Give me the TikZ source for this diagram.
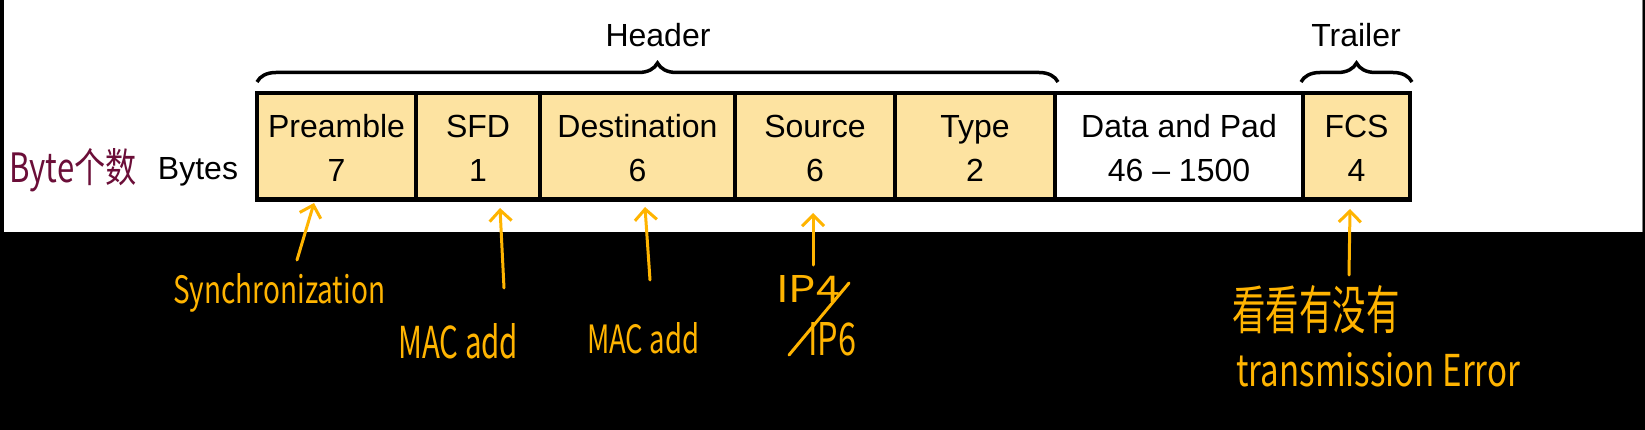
\documentclass[tikz,border=0pt]{standalone}
\usepackage{fontspec}
\setmainfont{Liberation Sans}
\newfontfamily\cjk{Noto Sans CJK SC}
\usetikzlibrary{arrows.meta,decorations.pathreplacing}
\definecolor{fieldfill}{HTML}{FDE3A1}
\definecolor{hand}{HTML}{FFB400}
\definecolor{maroon}{HTML}{6B0E38}
\newcommand{\handtext}[3]{\resizebox{#1pt}{#2pt}{\cjk #3}}
\newcommand{\twolines}[2]{\rule{0pt}{30pt}#1\\#2\rule[-4pt]{0pt}{4pt}}
\tikzset{
  field/.style={draw=black, line width=4.5pt, inner sep=0pt, minimum height=106.5pt,
    align=center, font=\fontsize{32}{44}\selectfont},
  yfield/.style={field, fill=fieldfill},
  wfield/.style={field, fill=white},
  lbl/.style={font=\fontsize{32}{38}\selectfont, inner sep=0pt},
  bracestyle/.style={decorate, decoration={brace, amplitude=19pt}, line width=3.5pt},
  note/.style={text=hand, inner sep=0pt},
  notearrow/.style={draw=hand, line width=3pt, line cap=round, -{Straight Barb[length=11pt,width=22pt,line width=3pt]}},
}
\begin{document}
\begin{tikzpicture}[x=1pt,y=-1pt]
\useasboundingbox (0,0) rectangle (1645,430);
\fill[black] (0,0) rectangle (1645,430);
\fill[white] (4,0) rectangle (1642,232);
\draw[gray, line width=1pt] (1642.5,0) -- (1642.5,232);

% fields
\node[yfield, minimum width=159pt] (pre)  at (336.5,146.25) {\twolines{Preamble}{7}};
\node[yfield, minimum width=124pt] (sfd)  at (478,146.25) {\twolines{SFD}{1}};
\node[yfield, minimum width=195pt] (dst)  at (637.5,146.25) {\twolines{Destination}{6}};
\node[yfield, minimum width=160pt] (src)  at (815,146.25) {\twolines{Source}{6}};
\node[yfield, minimum width=160pt] (typ)  at (975,146.25) {\twolines{Type}{2}};
\node[wfield, minimum width=248pt] (dat)  at (1179,146.25) {\twolines{Data and Pad}{46 -- 1500}};
\node[yfield, minimum width=107pt] (fcs)  at (1356.5,146.25) {\twolines{FCS}{4}};

% braces and labels
\coordinate (hL) at (257,82);
\coordinate (hR) at (1058,82);
\coordinate (tL) at (1301,82);
\coordinate (tR) at (1412,82);
\draw[bracestyle] (hL) -- (hR);
\draw[bracestyle] (tL) -- (tR);
\node[lbl] (header) at (658,35) {Header};
\node[lbl] (trailer) at (1356,35) {Trailer};

\node[lbl] (bytes) at (198,172) {Bytes};
\node[inner sep=0pt, text=maroon] (bytecn) at (73,170) {\handtext{127}{34}{Byte个数}};

% handwritten annotations
\node[note, anchor=base west] (sync) at (173,303) {\handtext{212}{30}{Synchronization}};
\node[note, anchor=base west] (mac1) at (398,358) {\handtext{120}{35}{MAC add}};
\node[note, anchor=base west] (mac2) at (587,353) {\handtext{112}{31}{MAC add}};
\node[note, anchor=base west] (ip4)  at (776,302) {\handtext{64}{27}{IP4}};
\node[note, anchor=base west] (ip6)  at (808,355) {\handtext{48}{33}{IP6}};
\coordinate (slA) at (789,355);
\coordinate (slB) at (849,283);
\draw[draw=hand, line width=3pt, line cap=round] (slA) -- (slB);
\node[note] (cn) at (1316,310) {\handtext{167}{44}{看看有没有}};
\node[note, anchor=base west] (err) at (1236,386) {\handtext{284}{34}{transmission Error}};

% arrows
\coordinate (a1s) at (297,260); \coordinate (a1e) at (314,203);
\coordinate (a2s) at (504,288); \coordinate (a2e) at (500,208);
\coordinate (a3s) at (650,280); \coordinate (a3e) at (645,207);
\coordinate (a4s) at (813,265); \coordinate (a4e) at (813,213);
\coordinate (a5s) at (1349,275); \coordinate (a5e) at (1350,209);
\draw[notearrow] (a1s) -- (a1e);
\draw[notearrow] (a2s) -- (a2e);
\draw[notearrow] (a3s) -- (a3e);
\draw[notearrow] (a4s) -- (a4e);
\draw[notearrow] (a5s) -- (a5e);
\end{tikzpicture}
\end{document}
